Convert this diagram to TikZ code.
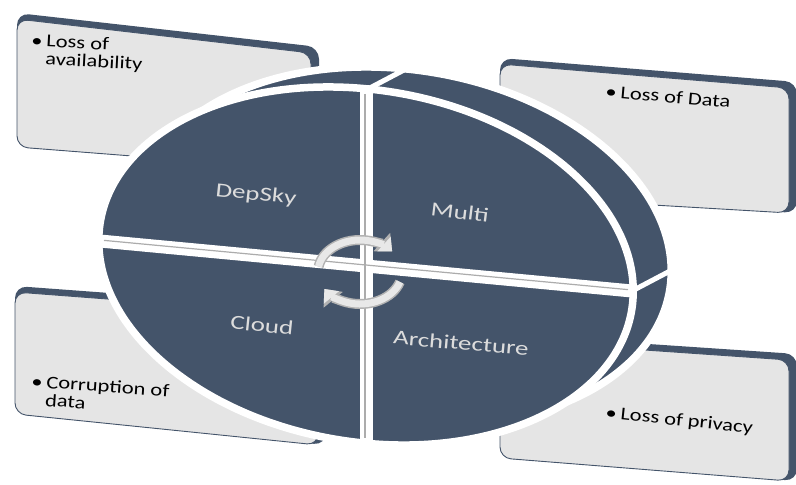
\documentclass[tikz,border=0pt]{standalone}
\usepackage{fontspec}
\setmainfont{Carlito}
\usepackage{graphicx}
\usepackage{xcolor}
\usepackage{tikz}
\usetikzlibrary{arrows.meta}
\definecolor{discnavy}{RGB}{68,84,106}
\definecolor{cardgray}{RGB}{229,229,229}
\definecolor{quadtext}{RGB}{220,220,220}
\newcommand{\widetext}[1]{\scalebox{1.25}[1]{#1}}
\newcommand{\widelabel}[1]{\scalebox{1.35}[1]{#1}}
\tikzset{
  % --- risk cards ---
  cardback/.style={fill=discnavy, rounded corners=12pt},
  cardface/.style={fill=cardgray, draw=discnavy, line width=0.9pt, rounded corners=11pt},
  cardtext/.style={anchor=base west, inner sep=0pt, text=black,
                   font=\fontsize{18}{18}\selectfont},
  % --- disc pieces ---
  halo/.style={fill=white, draw=white, line width=10pt},
  discpart/.style={fill=discnavy, draw=white, line width=5pt},
  gapline/.style={draw=white, line width=13pt},
  gapshade/.style={draw=gray!65, line width=1.2pt},
  rimcut/.style={draw=white, line width=5pt},
  quadlabel/.style={text=quadtext, inner sep=0pt, font=\fontsize{20}{24}\selectfont},
  cyclearrow/.style={draw=gray!18, line width=7pt, -{Triangle[length=11pt,width=19pt]},
                     preaction={draw=gray!60, line width=10pt, -{Triangle[length=14pt,width=24pt]}}},
}

\begin{document}
\begin{tikzpicture}[x=1pt, y=-1pt]
  \useasboundingbox (0,0) rectangle (796,485);

  % Risk cards (behind the disc)
  \fill[cardback] (17,13) -- (319,47) -- (319,170) -- (17,147) -- cycle;
  \path[cardface] (17,19) -- (311,53) -- (311,170) -- (17,147) -- cycle;
  \fill[cardback] (500,58) -- (797,82) -- (797,213) -- (500,196) -- cycle;
  \path[cardface] (500,64) -- (789,88) -- (789,213) -- (500,196) -- cycle;
  \fill[cardback] (15,286) -- (326,309) -- (326,445) -- (15,414) -- cycle;
  \path[cardface] (15,292) -- (318,315) -- (318,445) -- (15,414) -- cycle;
  \fill[cardback] (500,334) -- (797,354) -- (797,481) -- (500,458) -- cycle;
  \path[cardface] (500,340) -- (789,360) -- (789,481) -- (500,458) -- cycle;

  % Disc: back rim
  \begin{scope}[shift={(404,246)}, cm={1,-0.094,0,1,(0,0)}]
    \path[halo] (0,0) ellipse [x radius=266, y radius=176];
    \path[discpart] (0,0) ellipse [x radius=266, y radius=176];
    \coordinate (rimtop) at (0,-176);
    \coordinate (rimright) at (266,0);
  \end{scope}

  % Disc: front face with quadrant gaps
  \begin{scope}[shift={(366,266)}, cm={1,-0.094,0,1,(0,0)}]
    \path[halo] (0,0) ellipse [x radius=266, y radius=176];
    \path[discpart] (0,0) ellipse [x radius=266, y radius=176];
    \coordinate (facetop) at (0,-176);
    \coordinate (faceright) at (266,0);
    \draw[gapline] (-266,0) -- (266,0);
    \draw[gapline] (0,-176) -- (0,176);
    \draw[gapshade] (-262,-1) -- (262,-1);
    \draw[gapshade] (-1,-172) -- (-1,172);
  \end{scope}
  \draw[rimcut] (facetop) -- (rimtop);
  \draw[rimcut] (faceright) -- (rimright);

  % Cycle arrows
  \draw[cyclearrow] (360,272) ++(190:42 and 32) arc[start angle=190, end angle=320, x radius=42, y radius=32];
  \draw[cyclearrow] (360,272) ++(18:42 and 32) arc[start angle=18, end angle=148, x radius=42, y radius=32];

  % Quadrant labels
  \node[quadlabel, rotate=-6] (depsky) at (256,195) {\widelabel{DepSky}};
  \node[quadlabel, rotate=-7] (multi) at (460,212) {\widelabel{Multi}};
  \node[quadlabel, rotate=-6] (cloud) at (262,325) {\widelabel{Cloud}};
  \node[quadlabel, rotate=-5] (architecture) at (461,343) {\widelabel{Architecture}};

  % Card texts
  \node[cardtext, rotate=-3] (availability) at (31,46)
    {\widetext{\begin{tabular}[t]{@{}l@{\,}l@{}}\textbullet & Loss of\\ & availability\end{tabular}}};
  \node[cardtext, rotate=-5] (dataloss) at (605,97) {\widetext{\textbullet\,Loss of Data}};
  \node[cardtext, rotate=-4] (corruption) at (31,387)
    {\widetext{\begin{tabular}[t]{@{}l@{\,}l@{}}\textbullet & Corruption of\\ & data\end{tabular}}};
  \node[cardtext, rotate=-6] (privacy) at (605,418) {\widetext{\textbullet\,Loss of privacy}};
\end{tikzpicture}
\end{document}
